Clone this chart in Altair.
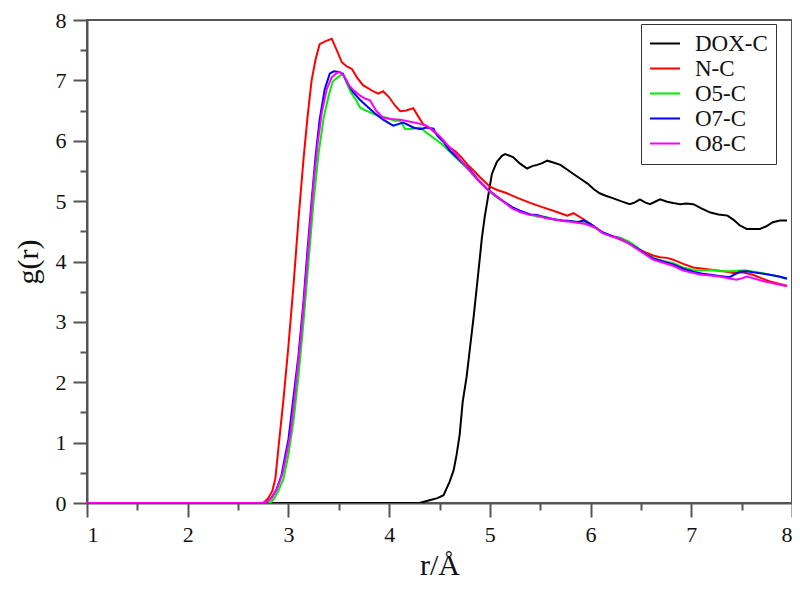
import altair as alt
import pandas as pd

series_names = ["DOX-C", "N-C", "O5-C", "O7-C", "O8-C"]
series_colors = ["#000000", "#ff0000", "#00ee00", "#0000ff", "#ff00ff"]

dox_r = [1.0, 4.3, 4.41, 4.48, 4.54, 4.6, 4.64, 4.67, 4.70, 4.73, 4.77, 4.80, 4.84, 4.87, 4.9, 4.92, 4.95, 4.97,
         5.0, 5.02, 5.07, 5.12, 5.15, 5.23, 5.3, 5.37, 5.42, 5.47, 5.52, 5.57, 5.63, 5.7, 5.77, 5.83, 5.9, 5.97,
         6.03, 6.09, 6.15, 6.22, 6.3, 6.39, 6.44, 6.49, 6.54, 6.59, 6.64, 6.69, 6.76, 6.82, 6.89, 6.95, 7.02,
         7.1, 7.19, 7.27, 7.36, 7.42, 7.48, 7.55, 7.62, 7.68, 7.74, 7.81, 7.88, 7.95]
dox_g = [0, 0, 0.05, 0.08, 0.13, 0.35, 0.54, 0.8, 1.13, 1.67, 2.1, 2.53, 3.1, 3.57, 4.05, 4.38, 4.75, 4.95,
         5.25, 5.45, 5.65, 5.75, 5.78, 5.73, 5.62, 5.54, 5.58, 5.6, 5.63, 5.67, 5.64, 5.6, 5.52, 5.45, 5.37, 5.29,
         5.2, 5.13, 5.09, 5.05, 5.0, 4.95, 4.98, 5.03, 4.98, 4.95, 4.99, 5.03, 4.99, 4.97, 4.95, 4.96, 4.95,
         4.88, 4.81, 4.78, 4.76, 4.69, 4.6, 4.54, 4.54, 4.54, 4.58, 4.65, 4.68, 4.68]

nc_r = [1.0, 2.75, 2.8, 2.84, 2.87, 2.9, 2.95, 3.0, 3.05, 3.1, 3.15, 3.19, 3.23, 3.27, 3.31, 3.37, 3.43,
        3.48, 3.53, 3.58, 3.63, 3.68, 3.74, 3.79, 3.84, 3.89, 3.94, 4.0, 4.06, 4.11, 4.17, 4.24, 4.29, 4.34,
        4.41, 4.48, 4.54, 4.60, 4.66, 4.72, 4.78, 4.83, 4.9, 5.0, 5.08, 5.17, 5.28, 5.40, 5.52, 5.63, 5.70,
        5.77, 5.83, 5.93, 6.02, 6.12, 6.24, 6.36, 6.46, 6.56, 6.62, 6.69, 6.76, 6.82, 6.92, 7.02, 7.12, 7.22,
        7.32, 7.42, 7.51, 7.61, 7.7, 7.78, 7.87, 7.95]
nc_g = [0, 0, 0.08, 0.2, 0.4, 0.9, 1.7, 2.6, 3.6, 4.7, 5.7, 6.4, 7.0, 7.35, 7.6, 7.65, 7.69,
        7.5, 7.3, 7.23, 7.19, 7.05, 6.92, 6.87, 6.82, 6.78, 6.82, 6.72, 6.58, 6.49, 6.5, 6.54, 6.4, 6.27,
        6.2, 6.1, 6.0, 5.89, 5.82, 5.72, 5.6, 5.52, 5.4, 5.24, 5.18, 5.13, 5.05, 4.97, 4.9, 4.84, 4.8,
        4.76, 4.8, 4.7, 4.6, 4.48, 4.4, 4.32, 4.22, 4.14, 4.1, 4.07, 4.06, 4.03, 3.96, 3.9, 3.88, 3.86,
        3.84, 3.81, 3.82, 3.78, 3.72, 3.67, 3.63, 3.6]

o5_r = [1.0, 2.82, 2.86, 2.9, 2.95, 3.0, 3.05, 3.1, 3.15, 3.2, 3.25, 3.3, 3.35, 3.4, 3.44, 3.49, 3.54, 3.58,
        3.62, 3.67, 3.71, 3.77, 3.84, 3.91, 3.98, 4.05, 4.11, 4.16, 4.24, 4.31, 4.38, 4.48, 4.54, 4.6, 4.7,
        4.8, 4.88, 4.97, 5.05, 5.13, 5.22, 5.3, 5.4, 5.47, 5.55, 5.63, 5.72, 5.8, 5.87, 5.95, 6.05, 6.12,
        6.2, 6.29, 6.38, 6.46, 6.54, 6.62, 6.72, 6.82, 6.92, 7.02, 7.1, 7.2, 7.3, 7.4, 7.48, 7.55, 7.62,
        7.7, 7.78, 7.87, 7.95]
o5_g = [0, 0, 0.08, 0.2, 0.4, 0.8, 1.35, 2.1, 3.0, 4.0, 5.0, 5.8, 6.38, 6.75, 6.98, 7.05, 7.11, 6.95,
        6.8, 6.68, 6.55, 6.5, 6.45, 6.4, 6.38, 6.33, 6.33, 6.19, 6.2, 6.22, 6.12, 6.0, 5.92, 5.82, 5.66,
        5.5, 5.36, 5.2, 5.08, 5.0, 4.9, 4.82, 4.78, 4.74, 4.74, 4.7, 4.68, 4.67, 4.66, 4.63, 4.56, 4.48,
        4.42, 4.4, 4.33, 4.24, 4.13, 4.06, 4.01, 3.97, 3.9, 3.86, 3.85, 3.86, 3.84, 3.84, 3.85, 3.85, 3.83,
        3.81, 3.78, 3.75, 3.71]

o7_r = [1.0, 2.78, 2.83, 2.88, 2.93, 2.97, 3.0, 3.05, 3.1, 3.15, 3.19, 3.23, 3.27, 3.31, 3.36, 3.41, 3.45,
        3.5, 3.54, 3.59, 3.64, 3.71, 3.78, 3.86, 3.94, 4.04, 4.14, 4.24, 4.31, 4.37, 4.44, 4.48, 4.54, 4.6,
        4.7, 4.8, 4.88, 4.97, 5.05, 5.13, 5.22, 5.3, 5.4, 5.47, 5.55, 5.63, 5.72, 5.8, 5.87, 5.93, 6.0,
        6.12, 6.2, 6.29, 6.38, 6.46, 6.54, 6.62, 6.72, 6.82, 6.92, 7.02, 7.1, 7.19, 7.28, 7.38, 7.48, 7.55,
        7.62, 7.7, 7.78, 7.87, 7.95]
o7_g = [0, 0, 0.08, 0.22, 0.45, 0.8, 1.05, 1.75, 2.45, 3.35, 4.2, 5.0, 5.75, 6.35, 6.85, 7.11, 7.15,
        7.14, 7.11, 6.95, 6.81, 6.68, 6.57, 6.45, 6.35, 6.25, 6.3, 6.22, 6.19, 6.22, 6.2, 6.08, 5.98, 5.84,
        5.68, 5.52, 5.36, 5.21, 5.1, 5.0, 4.9, 4.84, 4.78, 4.77, 4.73, 4.7, 4.68, 4.67, 4.65, 4.68, 4.62,
        4.48, 4.43, 4.38, 4.3, 4.22, 4.13, 4.05, 4.0, 3.95, 3.88, 3.83, 3.8, 3.78, 3.76, 3.74, 3.83, 3.84,
        3.82, 3.8, 3.78, 3.75, 3.72]

o8_r = [1.0, 2.74, 2.8, 2.84, 2.89, 2.94, 2.98, 3.02, 3.07, 3.12, 3.17, 3.21, 3.25, 3.29, 3.33, 3.38, 3.43,
        3.48, 3.51, 3.55, 3.6, 3.65, 3.71, 3.76, 3.81, 3.87, 3.94, 4.02, 4.11, 4.2, 4.31, 4.37, 4.44, 4.5,
        4.56, 4.62, 4.7, 4.8, 4.88, 4.97, 5.05, 5.13, 5.22, 5.3, 5.4, 5.47, 5.55, 5.63, 5.72, 5.8, 5.87,
        5.95, 6.05, 6.12, 6.2, 6.29, 6.38, 6.46, 6.54, 6.62, 6.72, 6.82, 6.92, 7.02, 7.1, 7.19, 7.28, 7.38,
        7.45, 7.5, 7.55, 7.62, 7.7, 7.78, 7.87, 7.95]
o8_g = [0, 0, 0.03, 0.1, 0.25, 0.48, 0.8, 1.15, 1.9, 2.7, 3.65, 4.5, 5.3, 5.95, 6.45, 6.85, 7.05,
        7.12, 7.14, 7.08, 6.92, 6.83, 6.75, 6.7, 6.67, 6.5, 6.38, 6.36, 6.35, 6.32, 6.28, 6.25, 6.17, 6.08,
        5.96, 5.86, 5.7, 5.5, 5.35, 5.2, 5.1, 5.0, 4.88, 4.82, 4.77, 4.76, 4.72, 4.7, 4.67, 4.66, 4.64,
        4.62, 4.56, 4.47, 4.42, 4.38, 4.3, 4.21, 4.12, 4.03, 3.98, 3.93, 3.85, 3.81, 3.78, 3.77, 3.75, 3.72,
        3.7, 3.72, 3.75, 3.72, 3.68, 3.65, 3.62, 3.59]

x_ticks = [1, 2, 3, 4, 5, 6, 7, 8]
x_minor = [1.5, 2.5, 3.5, 4.5, 5.5, 6.5, 7.5]
y_ticks = [0, 1, 2, 3, 4, 5, 6, 7, 8]
y_minor = [0.5, 1.5, 2.5, 3.5, 4.5, 5.5, 6.5, 7.5]

rows = []
for name, rs, gs in zip(series_names, [dox_r, nc_r, o5_r, o7_r, o8_r], [dox_g, nc_g, o5_g, o7_g, o8_g]):
    for i, (r, g) in enumerate(zip(rs, gs)):
        rows.append({"series": name, "r": r, "g": g, "i": i})
df = pd.DataFrame(rows)

FONT = "Liberation Serif"
AX = "#555555"
TOP = 12

xscale = alt.Scale(domain=[1, 8], nice=False, zero=False)
yscale = alt.Scale(domain=[0, 8], nice=False, zero=False)

major_x = alt.Axis(values=x_ticks, orient="bottom", grid=False, tickSize=14, tickWidth=2, tickColor=AX,
                   domainColor=AX, domainWidth=2, labelFont=FONT, labelFontSize=22, labelColor="#111111",
                   labelPadding=7, title="r/Å", titleFont=FONT, titleFontSize=30, titleFontWeight="normal",
                   titleColor="#111111", titlePadding=5, format="d")
major_y = alt.Axis(values=y_ticks, orient="left", grid=False, tickSize=14, tickWidth=2, tickColor=AX,
                   domainColor=AX, domainWidth=2, labelFont=FONT, labelFontSize=22, labelColor="#111111",
                   labelPadding=7, title="g(r)", titleFont=FONT, titleFontSize=30, titleFontWeight="normal",
                   titleColor="#111111", titlePadding=12, format="d")
minor_x = alt.Axis(values=x_minor, orient="bottom", grid=False, tickSize=7, tickWidth=2, tickColor=AX,
                   domain=False, labels=False, title="")
minor_y = alt.Axis(values=y_minor, orient="left", grid=False, tickSize=7, tickWidth=2, tickColor=AX,
                   domain=False, labels=False, title="")

lines = alt.Chart(df).mark_line(strokeWidth=2, clip=True).encode(
    x=alt.X("r:Q", scale=xscale, axis=major_x),
    y=alt.Y("g:Q", scale=yscale, axis=major_y),
    color=alt.Color("series:N", title=None,
                    scale=alt.Scale(domain=series_names, range=series_colors),
                    legend=alt.Legend(orient="none", legendX=554, legendY=27 - 11 - TOP, symbolType="stroke",
                                      symbolSize=900, symbolStrokeWidth=2, labelFont=FONT,
                                      labelFontSize=23, labelColor="#111111", labelOffset=14,
                                      strokeColor="#333333", fillColor="#ffffff", padding=8,
                                      rowPadding=1, clipHeight=23)),
    order="i:Q",
)

minor = alt.Chart(df).mark_point(opacity=0).encode(
    x=alt.X("r:Q", scale=xscale, axis=minor_x),
    y=alt.Y("g:Q", scale=yscale, axis=minor_y),
)

chart = alt.layer(lines, minor).resolve_axis(x="independent", y="independent").properties(
    width=705, height=495 - TOP,
    autosize=alt.AutoSizeParams(type="none"),
    padding={"left": 79, "top": TOP, "right": 0, "bottom": 82},
).configure(background="white", font=FONT).configure_view(stroke=AX, strokeWidth=2).configure_axis(
    labelFont=FONT, titleFont=FONT).configure_legend(labelFont=FONT)

chart.save("out.html", embed_options={"renderer": "svg", "actions": False})
